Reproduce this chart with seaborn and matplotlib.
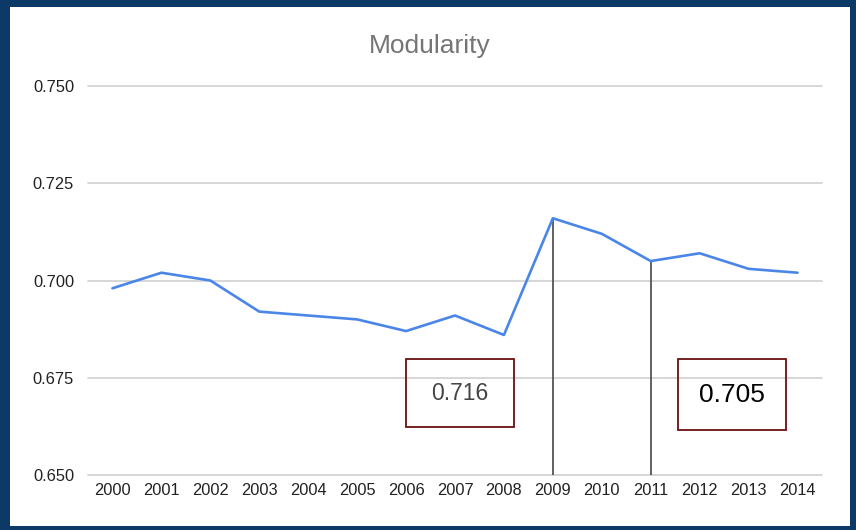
import matplotlib
matplotlib.use("Agg")
import matplotlib.pyplot as plt
import seaborn as sns
import pandas as pd
from matplotlib.patches import Rectangle

years = ["2000", "2001", "2002", "2003", "2004", "2005", "2006", "2007",
         "2008", "2009", "2010", "2011", "2012", "2013", "2014"]
modularity = [0.698, 0.702, 0.700, 0.692, 0.691, 0.690, 0.687, 0.691,
              0.686, 0.716, 0.712, 0.705, 0.707, 0.703, 0.702]
yticks = [0.650, 0.675, 0.700, 0.725, 0.750]
highlight_years = ["2009", "2011"]
highlight_labels = ["0.716", "0.705"]

sns.set_theme(style="white")
plt.rcParams['font.family'] = ['Liberation Sans', 'DejaVu Sans']

fig = plt.figure(figsize=(8.56, 5.30), dpi=100)
fig.patch.set_facecolor("#0c3966")
fig.add_artist(Rectangle((10/856, 4/530), (850-10)/856, (523-4)/530,
                         transform=fig.transFigure, facecolor="white",
                         edgecolor="none", zorder=0))

ax = fig.add_axes([88/856, 55/530, (822-88)/856, (475-86)/530])
ax.set_facecolor("none")

df = pd.DataFrame({"year": years, "value": modularity})
df["pos"] = range(len(years))
sns.lineplot(data=df, x="pos", y="value", ax=ax, color="#4a86e8",
             linewidth=1.9, sort=False, zorder=3)

ax.set_xlim(-0.5, len(years) - 0.5)
ax.set_ylim(yticks[0], yticks[-1])
ax.set_yticks(yticks)
ax.set_yticklabels([f"{t:.3f}" for t in yticks], fontsize=11.8, color="#222222")
ax.set_xticks(range(len(years)))
ax.set_xticklabels(years, fontsize=11.8, color="#222222")
ax.tick_params(axis="both", length=0)
ax.tick_params(axis="y", pad=10)
ax.tick_params(axis="x", pad=6)
ax.set_xlabel("")
ax.set_ylabel("")
for s in ax.spines.values():
    s.set_visible(False)
ax.grid(False)
for t in yticks:
    ax.axhline(t, color="#cfcfcf", linewidth=1.2, zorder=1, clip_on=False)

# vertical drop lines
for yr in highlight_years:
    i = years.index(yr)
    ax.vlines(i, yticks[0], modularity[i], color="#555555", linewidth=1.3, zorder=2)

# annotation boxes (axes-fraction layout)
boxes = [((406-88)/734, (475-427)/389, 108/734, 68/389, "#444444", 16.5),
         ((678-88)/734, (475-430)/389, 108/734, 71/389, "#000000", 19)]
for (bx, by, bw, bh, tc, fs), lab in zip(boxes, highlight_labels):
    ax.add_patch(Rectangle((bx, by), bw, bh, transform=ax.transAxes,
                           facecolor="none", edgecolor="#6b0f0f",
                           linewidth=1.3, zorder=4, clip_on=False))
    ax.text(bx + bw/2, by + bh/2 - 0.002, lab, transform=ax.transAxes,
            ha="center", va="center", fontsize=fs, color=tc, zorder=5)

fig.text(430/856, 1 - 46/530, "Modularity", ha="center", va="center",
         fontsize=19, color="#757575")

fig.savefig("out.png", dpi=100)
